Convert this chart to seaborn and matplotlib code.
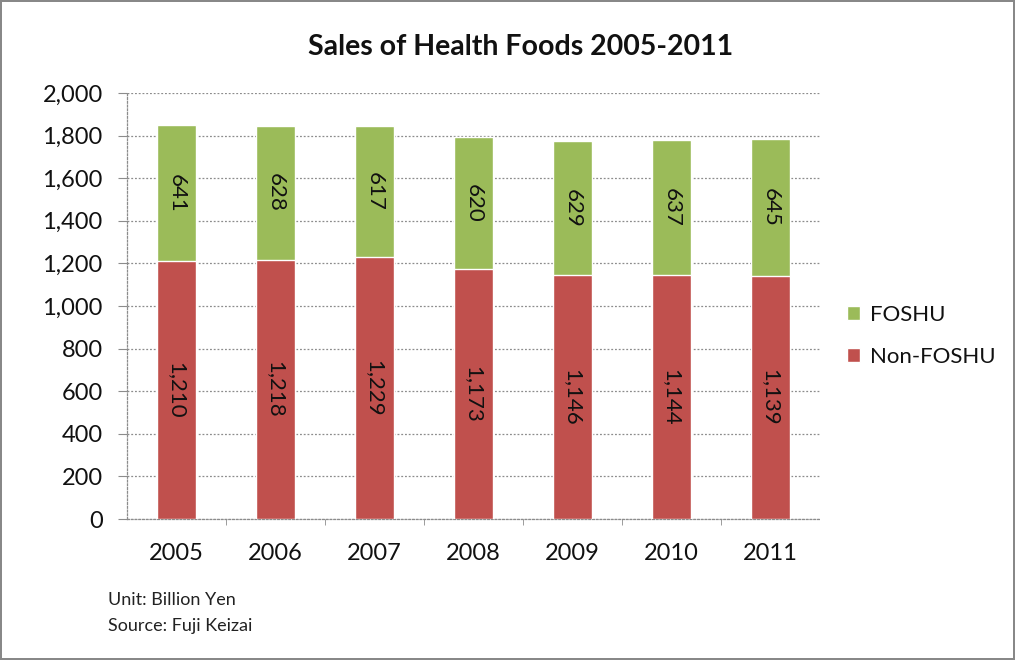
import matplotlib
matplotlib.use("Agg")
import matplotlib.pyplot as plt
import seaborn as sns
import pandas as pd
from matplotlib.ticker import FuncFormatter, FixedLocator

years = ["2005", "2006", "2007", "2008", "2009", "2010", "2011"]
non_foshu = [1210, 1218, 1229, 1173, 1146, 1144, 1139]
foshu = [641, 628, 617, 620, 629, 637, 645]

sns.set_style("white")
plt.rcParams['font.family'] = ['Lato', 'DejaVu Sans']

df = pd.DataFrame({"year": years, "non": non_foshu, "foshu": foshu})
df["total"] = df["non"] + df["foshu"]

green = "#9bbb59"
red = "#c0504d"
txt = "#111111"

fig = plt.figure(figsize=(10.15, 6.6), dpi=100)
ax = fig.add_axes([127 / 1015, 1 - 519 / 660, (820 - 127) / 1015, (519 - 93) / 660])

sns.barplot(data=df, x="year", y="total", color=green, width=0.39,
            saturation=1, ax=ax, label="FOSHU", zorder=3)
sns.barplot(data=df, x="year", y="non", color=red, width=0.39,
            saturation=1, ax=ax, label="Non-FOSHU", zorder=3)

for i, (n, f) in enumerate(zip(non_foshu, foshu)):
    ax.text(i, n + f / 2, f"{f:,}", rotation=-90, ha="center", va="center",
            fontsize=16, color=txt, zorder=5, rotation_mode="anchor")
    ax.text(i, n / 2, f"{n:,}", rotation=-90, ha="center", va="center",
            fontsize=16, color=txt, zorder=5, rotation_mode="anchor")

ax.set_ylim(0, 2000)
ax.set_xlim(-0.5, 6.5)
ax.yaxis.set_major_locator(FixedLocator(range(0, 2001, 200)))
ax.yaxis.set_major_formatter(FuncFormatter(lambda v, p: f"{int(v):,}"))
ax.grid(axis="y", color="#8c8c8c", linestyle=(0, (1.5, 1.5)), linewidth=0.9, zorder=0)
ax.set_axisbelow(True)
ax.set_xlabel("")
ax.set_ylabel("")
for s in ["top", "right"]:
    ax.spines[s].set_visible(False)
for s in ["left", "bottom"]:
    ax.spines[s].set_color("#8c8c8c")
    ax.spines[s].set_linestyle((0, (1.5, 1.5)))
    ax.spines[s].set_linewidth(0.9)
ax.tick_params(axis="y", labelsize=17, length=6.5, color="#8c8c8c", left=True,
               pad=11, labelcolor=txt)
ax.tick_params(axis="x", labelsize=17, length=0, pad=17, labelcolor=txt)
ax.set_xticks([i + 0.5 for i in range(6)], minor=True)
ax.tick_params(axis="x", which="minor", length=4, color="#8c8c8c", bottom=True)

fig.text(521 / 1015, 1 - 47 / 660, "Sales of Health Foods 2005-2011", fontsize=20.5,
         fontweight="bold", ha="center", va="center", color=txt)

handles, labels = ax.get_legend_handles_labels()
ax.legend(handles, labels, loc="center left", bbox_to_anchor=(1.01, 0.43),
          frameon=False, fontsize=16, handlelength=0.6, handleheight=0.6,
          labelspacing=1.0, handletextpad=0.45, labelcolor=txt)

fig.text(108 / 1015, 1 - 600 / 660, "Unit: Billion Yen", fontsize=13, color="#222222",
         va="center")
fig.text(108 / 1015, 1 - 626 / 660, "Source: Fuji Keizai", fontsize=13, color="#222222",
         va="center")

fig.patch.set_edgecolor("#888888")
fig.patch.set_linewidth(1.5)

fig.savefig("out.png", dpi=100, edgecolor=fig.get_edgecolor())
